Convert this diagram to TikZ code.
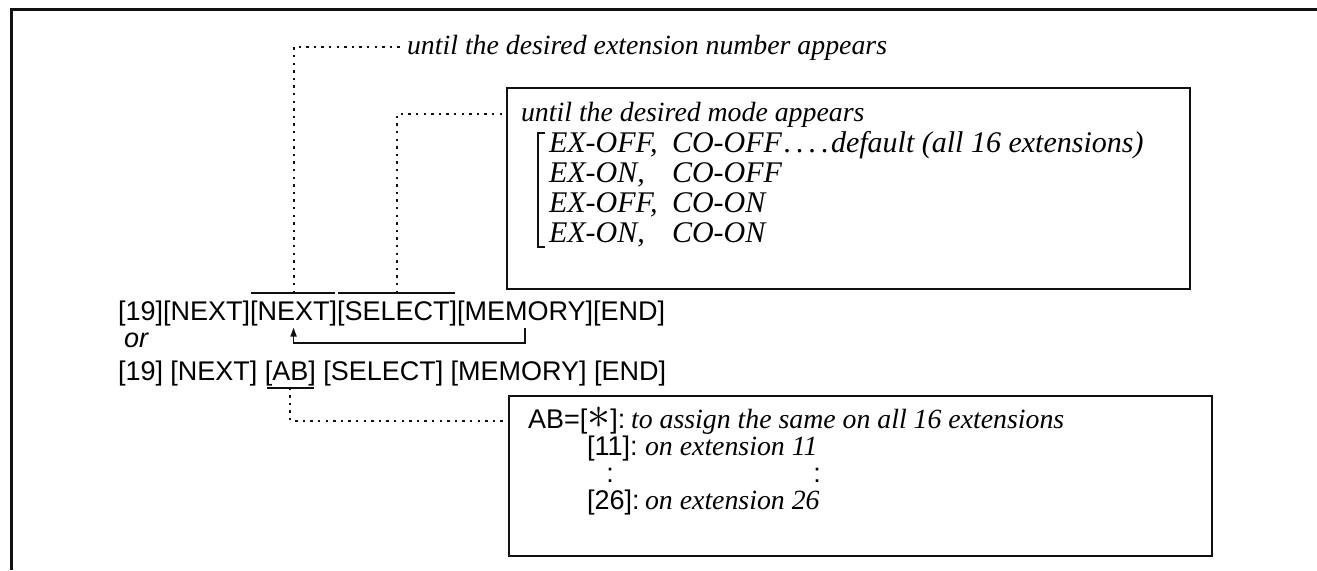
\documentclass[tikz,border=0pt]{standalone}
\usepackage{fontspec}
\setmainfont{Liberation Serif}
\setsansfont{Liberation Sans}
\usepackage{tikz}
\usetikzlibrary{arrows.meta,positioning}
\definecolor{ink}{HTML}{111111}

\begin{document}
\begin{tikzpicture}[x=0.5pt, y=-0.5pt, node distance=0pt,
  key/.style={font=\sffamily\fontsize{13.5}{16}\selectfont, inner sep=0pt, outer sep=0pt,
              text height=10pt, text depth=2.8pt},
  nt/.style={font=\itshape\fontsize{13.9}{16}\selectfont, anchor=base west},
  md/.style={nt, font=\itshape\fontsize{15}{18}\selectfont},
  bx/.style={draw=ink, line width=1.2pt, anchor=north west, inner sep=0pt},
  dot/.style={ink, line width=1pt, dash pattern=on 1.2pt off 2.6pt},
  ovl/.style={ink, line width=1pt},
  arr/.style={-{Triangle[length=4.5pt,width=3pt]}, ink, line width=0.9pt}]
  \useasboundingbox (0,0) rectangle (1317,570);
  \draw[ink, line width=1.5pt] (1317,9) -- (11,9) -- (11,570);

  \node[key, anchor=base west] (a1) at (118,320) {[19]};
  \node[key, right=of a1] (a2) {[NEXT]};
  \node[key, right=of a2] (a3) {[NEXT]};
  \node[key, right=of a3] (a4) {[SELECT]};
  \node[key, right=of a4] (a5) {[MEMORY]};
  \node[key, right=of a5] (a6) {[END]};

  \node[key, font=\sffamily\itshape\fontsize{13.5}{16}\selectfont, anchor=base west] (orw) at (124,347) {or};

  \node[key, anchor=base west] (b1) at (118,380) {[19]};
  \node[key, right=3.7pt of b1] (b2) {[NEXT]};
  \node[key, right=3.7pt of b2] (b3) {[AB]};
  \node[key, right=3.7pt of b3] (b4) {[SELECT]};
  \node[key, right=3.7pt of b4] (b5) {[MEMORY]};
  \node[key, right=3.7pt of b5] (b6) {[END]};

  \draw[ovl] ([shift={(0.5pt,3.5pt)}]a3.north west) -- ([shift={(-1pt,3.5pt)}]a3.north east);
  \draw[ovl] ([shift={(0.5pt,3.5pt)}]a4.north west) -- ([shift={(-1pt,3.5pt)}]a4.north east);
  \draw[ovl] ([shift={(1pt,-1pt)}]b3.south west) -- ([shift={(-1pt,-1pt)}]b3.south east);

  \node[nt] (untilext) at (400,54) {until the desired extension number appears};

  \node[bx, minimum width=341.5pt, minimum height=100.5pt] (modebox) at (506,87) {};
  \node[nt] (untilmode) at (514,121) {until the desired mode appears};
  \node[md] (m1) at (542,152) {EX-OFF,};
  \node[md] (m2) at (542,182) {EX-ON,};
  \node[md] (m3) at (542,212) {EX-OFF,};
  \node[md] (m4) at (542,242) {EX-ON,};
  \node[md] (c1) at (665,152) {CO-OFF\kern1pt.\kern2.5pt.\kern2.5pt.\kern2.5pt.\kern1pt default (all 16 extensions)};
  \node[md] (c2) at (665,182) {CO-OFF};
  \node[md] (c3) at (665,212) {CO-ON};
  \node[md] (c4) at (665,242) {CO-ON};
  \draw[ink, line width=0.8pt] (545,133) -- (538,133) -- (538,247) -- (545,247);

  \node[bx, minimum width=351.5pt, minimum height=80pt] (abbox) at (508,395) {};
  \node[key, anchor=base west] (abtext) at (528,428) {AB=[\scalebox{1.6}{$\ast$}]:};
  \node[nt] (ab1) at (624,428) {to assign the same on all 16 extensions};
  \node[key, anchor=base west] (k11) at (587,455) {[11]:};
  \node[nt] (ab2) at (638,455) {on extension 11};
  \node[key, anchor=base] (v1) at (610,482) {:};
  \node[key, anchor=base] (v2) at (817,482) {:};
  \node[key, anchor=base west] (k26) at (587,509) {[26]:};
  \node[nt] (ab3) at (638,509) {on extension 26};

  \draw[dot] ([yshift=3.5pt]a3.north) |- (untilext.west);
  \draw[dot] ([yshift=3.5pt]a4.north) |- (untilmode.west -| modebox.west);
  \draw[dot] ([yshift=-1pt]b3.south) |- (abtext.west -| abbox.west);
  \draw[arr] ([yshift=-1pt]a5.south) -- ++(0,15) -| ([yshift=-1pt]a3.south);
\end{tikzpicture}
\end{document}
